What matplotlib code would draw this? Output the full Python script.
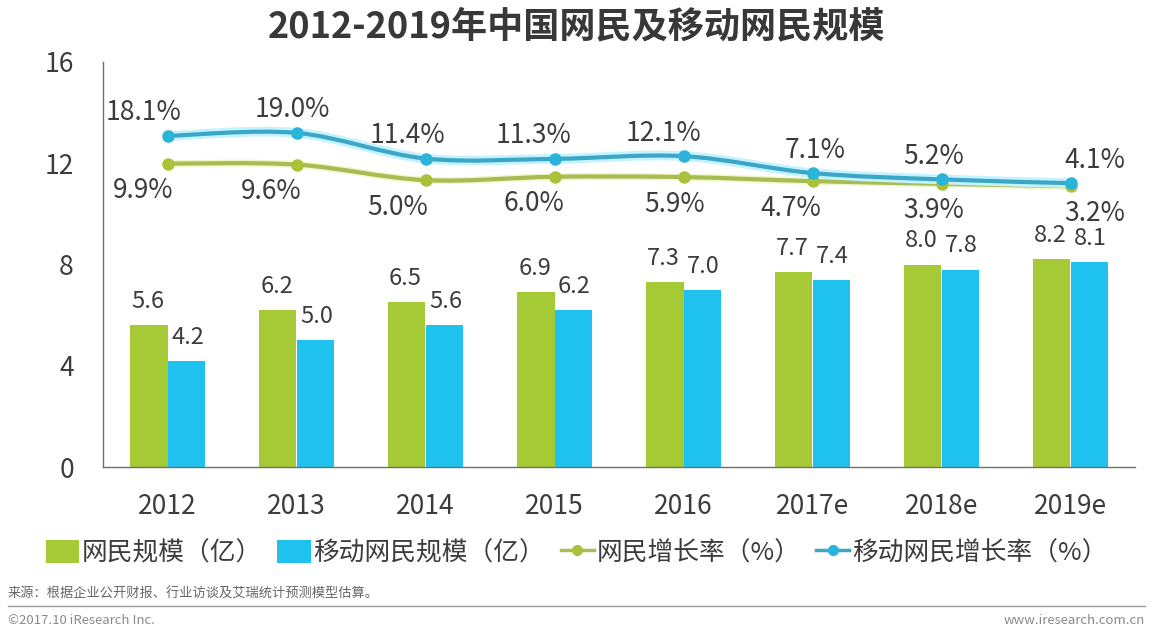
import matplotlib
matplotlib.use("Agg")
import matplotlib.pyplot as plt
import matplotlib.patheffects as pe
from matplotlib.path import Path
from matplotlib.patches import PathPatch, Patch
from matplotlib.lines import Line2D
import numpy as np

plt.rcParams['font.family'] = ['Noto Sans CJK SC', 'DejaVu Sans']

# data
years = ['2012', '2013', '2014', '2015', '2016', '2017e', '2018e', '2019e']
netizens = [5.6, 6.2, 6.5, 6.9, 7.3, 7.7, 8.0, 8.2]          # 亿
mobile_netizens = [4.2, 5.0, 5.6, 6.2, 7.0, 7.4, 7.8, 8.1]   # 亿
netizen_growth = [9.9, 9.6, 5.0, 6.0, 5.9, 4.7, 3.9, 3.2]    # %
mobile_growth = [18.1, 19.0, 11.4, 11.3, 12.1, 7.1, 5.2, 4.1]  # %
y_ticks = [0, 4, 8, 12, 16]

# label nudges (pixels), as placed in the original
mobile_label_dx = [-24, -4, -18, -21, -20, 3, -8, 24]
netizen_label_dx = [-24, -25, -28, -21, -9, -22, -8, 24]

GREEN = '#A6C936'
BLUE = '#1FC2EE'
GREEN_LINE = '#A8BC55'
BLUE_LINE = '#3BA6C6'
TEXT = '#3C3C3C'
FS = 19


def smooth_path(xs, ys):
    # Catmull-Rom style bezier, like Excel's smoothed lines
    pts = np.column_stack([xs, ys]).astype(float)
    n = len(pts)
    verts = [pts[0]]
    codes = [Path.MOVETO]
    for i in range(n - 1):
        p0 = pts[max(i - 1, 0)]
        p1 = pts[i]
        p2 = pts[i + 1]
        p3 = pts[min(i + 2, n - 1)]
        verts += [p1 + (p2 - p0) / 6, p2 - (p3 - p1) / 6, p2]
        codes += [Path.CURVE4] * 3
    return Path(verts, codes)


fig = plt.figure(figsize=(11.53, 6.35), dpi=100)
ax = fig.add_axes([103 / 1153, 1 - 467 / 635, 1032 / 1153, 405 / 635])

x = np.arange(len(years))
w = 0.287
ax.bar(x - w / 2, netizens, w, color=GREEN)
ax.bar(x + w / 2, mobile_netizens, w, color=BLUE)

for xi, v in zip(x - w / 2, netizens):
    ax.annotate(f'{v:.1f}', (xi, v), xytext=(-1, 17), textcoords='offset points',
                ha='center', va='center', fontsize=17, color=TEXT)
for xi, v in zip(x + w / 2, mobile_netizens):
    ax.annotate(f'{v:.1f}', (xi, v), xytext=(1, 17), textcoords='offset points',
                ha='center', va='center', fontsize=17, color=TEXT)

ax.set_xlim(-0.5, len(years) - 0.5)
ax.set_ylim(0, 16)
ax.set_yticks(y_ticks)
ax.set_xticks(x)
ax.set_xticklabels(years)
ax.tick_params(axis='both', length=0, labelsize=FS, labelcolor=TEXT)
ax.tick_params(axis='x', pad=19)
ax.tick_params(axis='y', pad=21)
for side in ['top', 'right']:
    ax.spines[side].set_visible(False)
for side in ['left', 'bottom']:
    ax.spines[side].set_color('#6E6E6E')
    ax.spines[side].set_linewidth(1.0)

# growth rates on a hidden secondary axis
ax2 = ax.twinx()
ax2.set_ylim(-80, 40)
ax2.axis('off')

glow_blue = [pe.Stroke(linewidth=7, foreground='#C4F2FF'), pe.Normal()]
glow_green = [pe.Stroke(linewidth=5, foreground='#F0F7C6'), pe.Normal()]

ax2.add_patch(PathPatch(smooth_path(x, netizen_growth), facecolor='none',
                        edgecolor=GREEN_LINE, lw=3, path_effects=glow_green))
ax2.plot(x, netizen_growth, 'o', color='#A9C23A', ms=8)
ax2.add_patch(PathPatch(smooth_path(x, mobile_growth), facecolor='none',
                        edgecolor=BLUE_LINE, lw=3, path_effects=glow_blue))
ax2.plot(x, mobile_growth, 'o', color='#2BB3DA', ms=8)

for xi, v, dx in zip(x, mobile_growth, mobile_label_dx):
    ax2.annotate(f'{v:.1f}%', (xi, v), xytext=(dx, 23), textcoords='offset pixels',
                 ha='center', va='center', fontsize=FS, color=TEXT)
for xi, v, dx in zip(x, netizen_growth, netizen_label_dx):
    ax2.annotate(f'{v:.1f}%', (xi, v), xytext=(dx, -27), textcoords='offset pixels',
                 ha='center', va='center', fontsize=FS, color=TEXT)

# title
fig.text(0.5, 1 - 27 / 635, '2012-2019年中国网民及移动网民规模', ha='center', va='center',
         fontsize=26, fontweight='bold', color='#383838')

# legend
handles = [
    Patch(facecolor=GREEN),
    Patch(facecolor=BLUE),
    Line2D([], [], color=GREEN_LINE, lw=2.5, marker='o', ms=7, mfc='#A9C23A', mec='#A9C23A'),
    Line2D([], [], color=BLUE_LINE, lw=2.5, marker='o', ms=7, mfc='#2BB3DA', mec='#2BB3DA'),
]
labels = ['网民规模（亿）', '移动网民规模（亿）', '网民增长率（%）', '移动网民增长率（%）']
fig.legend(handles, labels, loc='center', bbox_to_anchor=(0.5, 1 - 553 / 635), ncol=4,
           frameon=False, fontsize=18.5, handlelength=1.3, handleheight=1.0,
           handletextpad=0.1, columnspacing=0.6, labelcolor=TEXT)

# footer
fig.text(8 / 1153, 1 - 594 / 635, '来源：根据企业公开财报、行业访谈及艾瑞统计预测模型估算。',
         ha='left', va='center', fontsize=9.5, color='#666666')
fig.add_artist(Line2D([8 / 1153, 1145 / 1153], [1 - 606 / 635] * 2,
                      color='#9A9A9A', lw=1, transform=fig.transFigure))
fig.text(8 / 1153, 1 - 620 / 635, '©2017.10 iResearch Inc.', ha='left', va='center',
         fontsize=9.5, color='#8A8A8A')
fig.text(1145 / 1153, 1 - 620 / 635, 'www.iresearch.com.cn', ha='right', va='center',
         fontsize=9.5, color='#8A8A8A')

fig.savefig('out.png', dpi=100, facecolor='white')
plt.close(fig)
